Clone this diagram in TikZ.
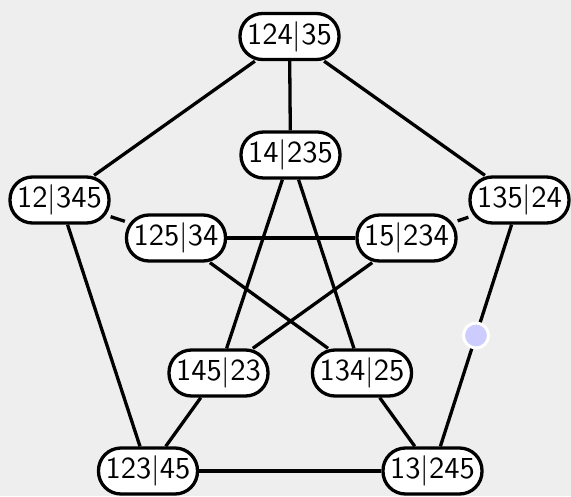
\documentclass[tikz,border=0pt]{standalone}
\definecolor{bg}{HTML}{EEEEEE}
\definecolor{dotfill}{HTML}{CCCCFF}
\newcommand\petlbl[1]{\scalebox{3.05}{\fontsize{10}{12}\selectfont\sffamily #1}}
\begin{document}
\begin{tikzpicture}[x=1pt,y=-1pt,
  vtx/.style={draw=black, fill=white, line width=3.3pt, rounded corners=22.5pt,
    minimum width=99pt, minimum height=46pt, inner sep=0pt},
  edg/.style={line width=3.3pt, black},
  dotnode/.style={circle, fill=dotfill, draw=white, line width=3pt, minimum size=25pt, inner sep=0pt}]
\fill[bg] (0,0) rectangle (571,496);
\useasboundingbox (0,0) rectangle (571,496);
% outer
\node[vtx] (a) at (289.5,36.5) {\petlbl{124$|$35}};
\node[vtx] (b) at (59.5,200) {\petlbl{12$|$345}};
\node[vtx] (c) at (519.5,200) {\petlbl{135$|$24}};
\node[vtx] (d) at (148,471) {\petlbl{123$|$45}};
\node[vtx] (e) at (432.5,471) {\petlbl{13$|$245}};
% inner
\node[vtx] (f) at (290.5,155) {\petlbl{14$|$235}};
\node[vtx] (g) at (176,238) {\petlbl{125$|$34}};
\node[vtx] (h) at (406.5,238) {\petlbl{15$|$234}};
\node[vtx] (i) at (218.5,373) {\petlbl{145$|$23}};
\node[vtx] (j) at (362,373) {\petlbl{134$|$25}};
% edges
\draw[edg] (a) -- (b);
\draw[edg] (a) -- (c);
\draw[edg] (b) -- (d);
\draw[edg] (d) -- (e);
\draw[edg] (a) -- (f);
\draw[edg] (b) -- (g);
\draw[edg] (c) -- (h);
\draw[edg] (d) -- (i);
\draw[edg] (e) -- (j);
\draw[edg] (f) -- (i);
\draw[edg] (f) -- (j);
\draw[edg] (g) -- (h);
\draw[edg] (g) -- (j);
\draw[edg] (h) -- (i);
\draw[edg] (c) -- node[dotnode] (m) {} (e);
\end{tikzpicture}
\end{document}
